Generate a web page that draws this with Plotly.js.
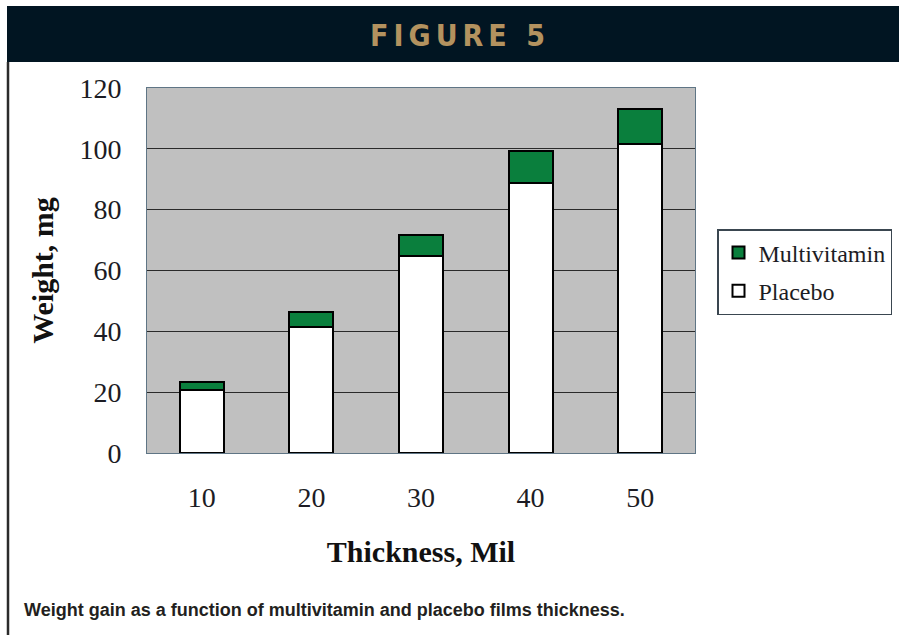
<!DOCTYPE html>
<html>
<head>
<meta charset="utf-8">
<script src="https://cdn.plot.ly/plotly-3.0.1.min.js"></script>
<style>
  html, body { margin: 0; padding: 0; background: #ffffff; }
  #chart { width: 899px; height: 635px; }
</style>
</head>
<body>
<div id="chart"></div>
<script>
// Film thickness (mil) and weight gain (mg) of the stacked films
const thickness = ["10", "20", "30", "40", "50"];
const placebo = [20.7, 41.3, 64.7, 88.9, 101.5];
const multivitamin = [2.6, 4.9, 6.9, 10.3, 11.7];
const yTicks = [0, 20, 40, 60, 80, 100, 120];

// Page geometry in pixels
const W = 899, H = 635;
const M = { l: 147, r: 204, t: 88, b: 182, autoexpand: false };
const PW = W - M.l - M.r, PH = H - M.t - M.b;
const fx = x => (x - M.l) / PW;          // pixel x -> paper x
const fy = y => (H - M.b - y) / PH;      // pixel y -> paper y

const serif = "Liberation Serif, Times New Roman, serif";
const ink = "#1c1c24";

const traces = [
  {
    type: "bar", name: "Placebo", x: thickness, y: placebo,
    legendgroup: "p", legendrank: 2,
    marker: { color: "#ffffff", line: { color: "#000000", width: 2 } }
  },
  {
    type: "bar", name: "Multivitamin", x: thickness, y: multivitamin,
    legendgroup: "m", legendrank: 1,
    marker: { color: "#0a7f3d", line: { color: "#000000", width: 2 } }
  }
];

const layout = {
  width: W, height: H,
  margin: M,
  paper_bgcolor: "#ffffff",
  plot_bgcolor: "#c0c0c0",
  barmode: "stack",
  bargap: 0.6,
  showlegend: true,
  legend: {
    x: fx(717), y: fy(229), xanchor: "left", yanchor: "top",
    traceorder: "grouped", tracegroupgap: 4,
    bgcolor: "#ffffff", bordercolor: "#3a4650", borderwidth: 1.5,
    font: { family: serif, size: 24, color: ink }
  },
  xaxis: {
    type: "category",
    showgrid: false, zeroline: false,
    showline: true, mirror: true, linecolor: "#5f7585", linewidth: 1,
    ticks: "", ticklabelstandoff: 19,
    tickfont: { family: serif, size: 28, color: ink },
    title: {
      text: "Thickness, Mil", standoff: 29,
      font: { family: serif, size: 30, color: "#111111", weight: "bold" }
    }
  },
  yaxis: {
    range: [0, 120], tickvals: yTicks,
    showgrid: true, gridcolor: "#2a2a2a", gridwidth: 1.3,
    zeroline: false,
    showline: true, mirror: true, linecolor: "#5f7585", linewidth: 1,
    ticks: "", ticklabelstandoff: 19,
    tickfont: { family: serif, size: 28, color: ink },
    title: {
      text: "Weight, mg", standoff: 16,
      font: { family: serif, size: 30, color: "#111111", weight: "bold" }
    }
  },
  shapes: [
    // header band
    { type: "rect", xref: "paper", yref: "paper",
      x0: fx(7), x1: fx(899), y0: fy(62), y1: fy(6),
      fillcolor: "#011522", line: { width: 0 } },
    // left frame rule
    { type: "line", xref: "paper", yref: "paper",
      x0: fx(8), x1: fx(8), y0: fy(62), y1: fy(635),
      line: { color: "#2b2b2b", width: 2.5 } }
  ],
  annotations: [
    { text: "FIGURE 5", xref: "paper", yref: "paper",
      x: fx(460), y: fy(35), xanchor: "center", yanchor: "middle",
      showarrow: false,
      font: { family: "DejaVu Sans Condensed, DejaVu Sans, sans-serif", size: 30,
              color: "#b3925f", weight: "bold" } },
    { text: "Weight gain as a function of multivitamin and placebo films thickness.",
      xref: "paper", yref: "paper",
      x: fx(22), y: fy(610), xanchor: "left", yanchor: "middle",
      showarrow: false,
      font: { family: "Liberation Sans Narrow, Arial Narrow, sans-serif", size: 18,
              color: "#231f20", weight: "bold" } }
  ]
};

const gd = document.getElementById("chart");

// widen the tracking of the header lettering
function trackHeader() {
  gd.querySelectorAll(".annotation-text").forEach(t => {
    if (t.textContent === "FIGURE 5") t.setAttribute("letter-spacing", "5px");
  });
}

Plotly.newPlot(gd, traces, layout, { displayModeBar: false, staticPlot: true })
  .then(() => { trackHeader(); gd.on("plotly_afterplot", trackHeader); });
</script>
</body>
</html>
